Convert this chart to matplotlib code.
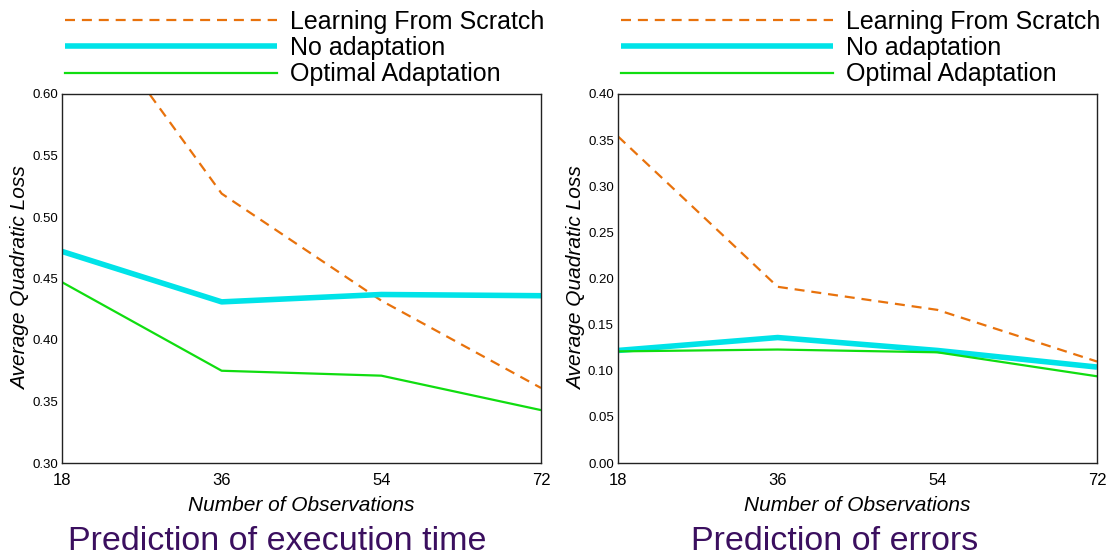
import matplotlib
matplotlib.use("Agg")
import matplotlib.pyplot as plt

plt.rcParams['font.family'] = ['Liberation Sans', 'DejaVu Sans']

observations = [18, 36, 54, 72]
series_labels = ["Learning From Scratch", "No adaptation", "Optimal Adaptation"]

exec_scratch = [0.698, 0.519, 0.432, 0.361]
exec_noadapt = [0.472, 0.431, 0.437, 0.436]
exec_optimal = [0.447, 0.375, 0.371, 0.343]

err_scratch = [0.354, 0.191, 0.166, 0.110]
err_noadapt = [0.122, 0.136, 0.122, 0.104]
err_optimal = [0.121, 0.123, 0.120, 0.094]

titles = ["Prediction of execution time", "Prediction of errors"]
ylims = [(0.30, 0.60), (0.00, 0.40)]
yticks = [[0.30, 0.35, 0.40, 0.45, 0.50, 0.55, 0.60],
          [0.00, 0.05, 0.10, 0.15, 0.20, 0.25, 0.30, 0.35, 0.40]]

fig = plt.figure(figsize=(11.10, 5.56), dpi=100)
W, H = 1110, 556
lefts = [62, 618]
title_centers = [277.5, 835]
aw = 479
top, bottom = 94, 463

data = [(exec_scratch, exec_noadapt, exec_optimal), (err_scratch, err_noadapt, err_optimal)]
for i in range(2):
    ax = fig.add_axes([lefts[i] / W, 1 - bottom / H, aw / W, (bottom - top) / H])
    s, n, o = data[i]
    ax.plot(observations, s, color='#e8720c', lw=1.6, dashes=(4.5, 3.1), label=series_labels[0])
    ax.plot(observations, n, color='#00e3e8', lw=4.0, label=series_labels[1], solid_capstyle='butt')
    ax.plot(observations, o, color='#10dd10', lw=1.6, label=series_labels[2])
    ax.set_xlim(18, 72)
    ax.set_ylim(*ylims[i])
    ax.set_xticks(observations)
    ax.set_xticklabels([str(v) for v in observations], fontsize=12)
    ax.set_yticks(yticks[i])
    ax.set_yticklabels([f"{v:.2f}" for v in yticks[i]], fontsize=9.5)
    ax.tick_params(axis='both', length=0)
    ax.tick_params(axis='x', pad=7)
    ax.tick_params(axis='y', pad=3)
    for sp in ax.spines.values():
        sp.set_color('#222222')
        sp.set_linewidth(1.0)
    ax.set_xlabel("Number of Observations", fontsize=15, style='italic', labelpad=6)
    ax.set_ylabel("Average Quadratic Loss", fontsize=15, style='italic', labelpad=1.5)
    ax.legend(loc='lower left', bbox_to_anchor=(0.002, 1.0136), frameon=False, fontsize=18,
              handlelength=8.47, handletextpad=0.5, labelspacing=0.09, borderaxespad=0.0,
              borderpad=0.1)
    fig.text(title_centers[i] / W, 1 - 541 / H, titles[i], fontsize=24.5,
             color='#3b0f5f', ha='center', va='center')

fig.savefig("out.png", dpi=100)
